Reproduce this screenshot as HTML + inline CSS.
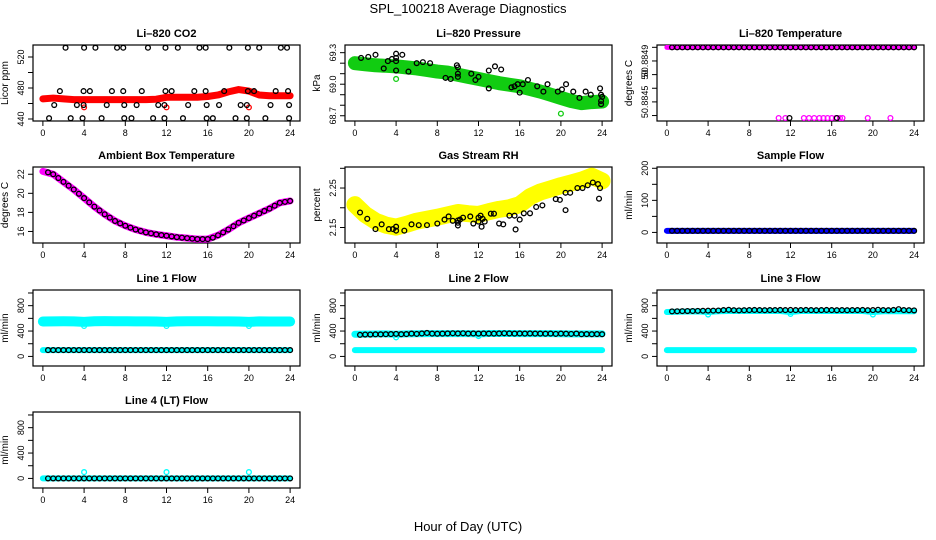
<!DOCTYPE html>
<html><head><meta charset="utf-8">
<style>
html,body{margin:0;padding:0;background:#fff;}
svg{display:block;font-family:"Liberation Sans",sans-serif;}
</style></head>
<body>
<svg id="chart" width="936" height="540" viewBox="0 0 936 540">
<text x="468" y="13" text-anchor="middle" font-size="13">SPL_100218  Average Diagnostics</text>
<text x="468" y="531" text-anchor="middle" font-size="13">Hour of Day (UTC)</text>
</svg>
<script>
// ---------- data ----------
const HOURS = [0,1,2,3,4,5,6,7,8,9,10,11,12,13,14,15,16,17,18,19,20,21,22,23,24];
const HALF = [0.5,1,1.5,2,2.5,3,3.5,4,4.5,5,5.5,6,6.5,7,7.5,8,8.5,9,9.5,10,10.5,11,11.5,12,12.5,13,13.5,14,14.5,15,15.5,16,16.5,17,17.5,18,18.5,19,19.5,20,20.5,21,21.5,22,22.5,23,23.5,24];
const XTICKS = [0,4,8,12,16,20,24];

// CO2
const co2Dense = [466,467,466,465,465,465,465,465,465,465,465,465.5,468,468,468,468,469,471,475,478,476,471,470,470,470];
const co2BlackH = [2.2,4.0,5.1,7.2,7.8,10.2,11.9,13.1,15.2,15.8,18.1,19.9,21.0,23.1,23.7,
 1.65,3.95,4.56,6.7,7.8,9.6,11.9,12.5,14.7,15.8,17.6,19.9,20.5,22.6,23.8,
 1.1,3.3,3.95,6.2,7.9,9.1,11.2,11.8,14.1,15.9,17.1,19.2,19.8,22.1,23.9,
 0.6,2.7,3.85,5.7,7.9,8.6,10.7,11.8,13.6,15.9,16.5,18.7,19.8,21.6,23.9];
const co2BlackV = [532,532,532,532,532,532,532,532,532,532,532,532,532,532,532,
 476,476,476,476,476,476,476,476,476,476,476,476,476,476,476,
 458,458,458,458,458,458,458,458,458,458,458,458,458,458,458,
 441,441,441,441,441,441,441,441,441,441,441,441,441,441,441];
const co2OutH = [4.0,12.0,20.0];
const co2OutV = [455,455,455];

// Pressure
const presDense = [69.20,69.19,69.18,69.175,69.17,69.16,69.15,69.135,69.12,69.11,69.09,69.07,69.05,69.03,69.01,68.995,68.98,68.955,68.93,68.9,68.87,68.84,68.82,68.83,68.835];
const presBlackH = [0.6,1.3,2,3.2,3.6,4,4,4,4.6,2.8,4,5.2,6,6.6,7.3,8.8,9.3,9.9,10,10,10,11.3,12,13,13.6,14.2,15.2,15.5,15.8,16,16.3,16.8,17.7,18.3,18.7,19.7,20.1,20.5,21.2,21.8,22.4,22.9,23.9,23.9,23.8,23.9,24,11.7,13];
const presBlackV = [69.25,69.26,69.28,69.22,69.24,69.22,69.25,69.29,69.28,69.15,69.13,69.12,69.2,69.21,69.2,69.06,69.05,69.18,69.16,69.1,69.07,69.1,69.07,69.13,69.17,69.14,68.97,68.98,69.0,68.92,69.0,69.04,68.98,68.93,69.0,68.93,68.95,69.0,68.93,68.87,68.93,68.9,68.84,68.9,68.96,68.81,68.88,69.04,68.96];
const presOutH = [4,20];
const presOutV = [69.05,68.72];

// Li-820 temperature
const tempTop = [50.8845,50.8845,50.8845,50.8845,50.8845,50.8845,50.8845,50.8845,50.8845,50.8845,50.8845,50.8845,50.8845,50.8845,50.8845,50.8845,50.8845,50.8845,50.8845,50.8845,50.8845,50.8845,50.8845,50.8845,50.8845];
const tempLowH = [10.85,11.5,13.3,13.8,14.3,14.8,15.2,15.6,16.0,16.4,16.8,17.05,19.5,21.7];
const tempLowV = [50.8844482,50.8844482,50.8844482,50.8844482,50.8844482,50.8844482,50.8844482,50.8844482,50.8844482,50.8844482,50.8844482,50.8844482,50.8844482,50.8844482];
const tempBlackLowH = [11.9,16.5];
const tempBlackLowV = [50.8844482,50.8844482];
const tempBlack = [50.8845,50.8845,50.8845,50.8845,50.8845,50.8845,50.8845,50.8845,50.8845,50.8845,50.8845,50.8845,50.8845,50.8845,50.8845,50.8845,50.8845,50.8845,50.8845,50.8845,50.8845,50.8845,50.8845,50.8845,50.8845,50.8845,50.8845,50.8845,50.8845,50.8845,50.8845,50.8845,50.8845,50.8845,50.8845,50.8845,50.8845,50.8845,50.8845,50.8845,50.8845,50.8845,50.8845,50.8845,50.8845,50.8845,50.8845,50.8845];

// Ambient
const ambDense = [22.3,22.0,21.2,20.4,19.5,18.6,17.8,17.1,16.6,16.2,15.9,15.7,15.55,15.4,15.3,15.2,15.2,15.6,16.2,16.9,17.4,17.9,18.4,19.0,19.2];
const ambBlack = [22.2,22.0,21.6,21.2,20.8,20.4,19.95,19.5,19.05,18.6,18.2,17.8,17.45,17.1,16.85,16.6,16.4,16.2,16.05,15.9,15.8,15.7,15.62,15.55,15.48,15.4,15.35,15.3,15.25,15.2,15.2,15.2,15.35,15.6,15.9,16.2,16.55,16.9,17.15,17.4,17.65,17.9,18.15,18.4,18.7,19.0,19.1,19.2];

// RH
const rhDense = [2.208,2.183,2.166,2.156,2.151,2.158,2.166,2.171,2.176,2.182,2.188,2.185,2.183,2.19,2.196,2.2,2.208,2.228,2.24,2.248,2.256,2.263,2.27,2.28,2.268];
const rhBlackH = [0.5,1.2,2,2.6,3.3,3.7,4,4,4.8,5.5,6.2,7,8,8.7,9.1,9.5,10,10,10,10.2,10.5,11.2,11.5,12,12,12.2,12.3,12.4,12.6,13.2,13.5,14,14.4,15,15.5,15.6,16,16.4,17,17.6,18.2,19.5,19.9,20.45,20.45,20.9,21.6,22.1,22.6,23.1,23.6,23.7,23.8];
const rhBlackV = [2.188,2.172,2.146,2.158,2.146,2.146,2.152,2.142,2.142,2.158,2.156,2.156,2.16,2.17,2.178,2.167,2.168,2.155,2.162,2.17,2.175,2.178,2.16,2.165,2.175,2.18,2.152,2.172,2.165,2.185,2.185,2.16,2.158,2.18,2.18,2.145,2.17,2.186,2.186,2.202,2.206,2.222,2.22,2.238,2.194,2.238,2.25,2.25,2.257,2.264,2.26,2.223,2.25];

// Sample flow
const sampDense = [5,5,5,5,5,5,5,5,5,5,5,5,5,5,5,5,5,5,5,5,5,5,5,5,5];
const sampBlack = [5,5,5,5,5,5,5,5,5,5,5,5,5,5,5,5,5,5,5,5,5,5,5,5,5,5,5,5,5,5,5,5,5,5,5,5,5,5,5,5,5,5,5,5,5,5,5,5];

// Line flows
const l1Cyan = [550,552,554,553,545,555,556,555,554,553,552,551,545,553,554,555,554,553,552,551,545,552,551,550,550];
const l1Low = [100,100,100,100,100,100,100,100,100,100,100,100,100,100,100,100,100,100,100,100,100,100,100,100,100];
const l1Black = [100,100,100,100,100,100,100,100,100,100,100,100,100,100,100,100,100,100,100,100,100,100,100,100,100,100,100,100,100,100,100,100,100,100,100,100,100,100,100,100,100,100,100,100,100,100,100,100];
const l1OutH = [4,12,20];
const l1OutV = [480,480,480];

const l2Cyan = [350,352,354,356,350,356,358,360,360,360,360,360,355,362,362,362,360,360,360,360,358,356,355,355,355];
const l2Low = [100,100,100,100,100,100,100,100,100,100,100,100,100,100,100,100,100,100,100,100,100,100,100,100,100];
const l2Black = [340,345,345,348,348,350,352,355,350,352,360,355,362,370,360,358,360,362,365,362,365,360,362,360,362,360,360,362,365,362,360,362,360,362,360,360,358,360,355,360,358,355,360,350,352,350,352,350];
const l2OutH = [4,12];
const l2OutV = [300,320];

const l3Cyan = [700,705,708,710,700,712,715,715,715,715,715,715,700,715,715,715,715,715,715,715,700,712,712,712,712];
const l3Low = [100,100,100,100,100,100,100,100,100,100,100,100,100,100,100,100,100,100,100,100,100,100,100,100,100];
const l3Black = [710,712,714,715,716,718,720,722,722,724,730,735,728,726,728,730,732,730,728,730,730,732,730,732,730,730,732,730,728,730,732,730,728,730,728,730,730,732,728,730,735,730,728,732,745,730,728,725];
const l3OutH = [4,12,20];
const l3OutV = [660,670,660];

const l4Cyan = [0,0,0,0,0,0,0,0,0,0,0,0,0,0,0,0,0,0,0,0,0,0,0,0,0];
const l4Black = [0,0,0,0,0,0,0,0,0,0,0,0,0,0,0,0,0,0,0,0,0,0,0,0,0,0,0,0,0,0,0,0,0,0,0,0,0,0,0,0,0,0,0,0,0,0,0,0];
const l4OutH = [4,12,20];
const l4OutV = [100,100,100];

// ---------- drawing ----------
const NS = 'http://www.w3.org/2000/svg';
const svg = document.getElementById('chart');
function mk(tag, attrs, parent){
  const e = document.createElementNS(NS, tag);
  for (const k in attrs) e.setAttribute(k, attrs[k]);
  (parent||svg).appendChild(e);
  return e;
}
const COLX = [33,345,657];
const ROWY = [45,167,290,412];
const BW = 267, BH = 76;

function panel(name, col, row, title, ylab, ydom, yticks, ylabels){
  const L = COLX[col], T = ROWY[row];
  const g = mk('g', {});
  
  
  const xs = h => L + (h + 0.96) / 25.92 * BW;
  const ys = v => T + BH - (v - ydom[0]) / (ydom[1] - ydom[0]) * BH;
  const box = mk('rect', {x:L, y:T, width:BW, height:BH, fill:'none', stroke:'#000', 'stroke-width':1.2}, g);
  
  
  const tt = mk('text', {x:L+BW/2, y:T-8, 'text-anchor':'middle', 'font-size':11, 'font-weight':'bold'}, g);
  tt.textContent = title;
  
  
  const yl = mk('text', {transform:`translate(${L-25},${T+BH/2}) rotate(-90)`, 'text-anchor':'middle', 'font-size':10}, g);
  yl.textContent = ylab;
  
  
  XTICKS.forEach(h => {
    const x = xs(h);
    mk('line', {x1:x, x2:x, y1:T+BH, y2:T+BH+5, stroke:'#000'}, g);
    const t = mk('text', {x:x, y:T+BH+15, 'text-anchor':'middle', 'font-size':9}, g);
    t.textContent = h;
    
    
  });
  yticks.forEach((v,i) => {
    const y = ys(v);
    mk('line', {x1:L-5, x2:L, y1:y, y2:y, stroke:'#000'}, g);
    if (ylabels[i]) {
      const t = mk('text', {transform:`translate(${L-9},${y}) rotate(-90)`, 'text-anchor':'middle', 'font-size':9}, g);
      t.textContent = ylabels[i];
      
      
    }
  });
  const clip = 'c' + col + row;
  const cp = mk('clipPath', {id:clip}, g);
  mk('rect', {x:L, y:T, width:BW, height:BH}, cp);
  const data = mk('g', {'clip-path':`url(#${clip})`}, g);
  return {
    band(hs, vs, color, w, nm){
      const p = mk('polyline', {points: hs.map((h,i)=>xs(h)+','+ys(vs[i])).join(' '), fill:'none', stroke:color, 'stroke-width':w, 'stroke-linejoin':'round', 'stroke-linecap':'round'}, data);
      
      
    },
    pts(hs, vs, color, nm){
      hs.forEach((h,i) => {
        const c = mk('circle', {cx:xs(h), cy:ys(vs[i]), r:2.4, fill:'none', stroke:color, 'stroke-width':1.3}, data);
        
        
      });
    }
  };
}

let p;
p = panel('co2-panel',0,0,'Li\u2013820 CO2','Licor ppm',[437.4,535.5],[440,460,480,500,520],['440','','480','','520']);
p.band(HOURS, co2Dense, '#f00', 7, 'co2-dense-series');
p.pts(co2OutH, co2OutV, '#f00', 'co2-outlier');
p.pts(co2BlackH, co2BlackV, '#000', 'co2-average-point');

p = panel('pressure-panel',1,0,'Li\u2013820 Pressure','kPa',[68.65,69.373],[68.7,68.8,68.9,69.0,69.1,69.2,69.3],['68.7','','','69.0','','','69.3']);
p.band(HOURS, presDense, '#1c1', 14, 'pressure-dense-series');
p.pts(presOutH, presOutV, '#1c1', 'pressure-outlier');
p.pts(presBlackH, presBlackV, '#000', 'pressure-average-point');

p = panel('temperature-panel',2,0,'Li\u2013820 Temperature','degrees C',[50.884446,50.8845017],[50.88445,50.88446,50.88447,50.88448,50.88449,50.8845],['','50.8845','','50','50.8849','']);
p.band(HOURS, tempTop, '#f0f', 5, 'temperature-dense-series');
p.pts(tempLowH, tempLowV, '#f0f', 'temperature-low-point');
p.pts(HALF, tempBlack, '#000', 'temperature-average-point');
p.pts(tempBlackLowH, tempBlackLowV, '#000', 'temperature-average-low-point');

p = panel('ambient-temp-panel',0,1,'Ambient Box Temperature','degrees C',[14.79,22.76],[16,18,20,22],['16','18','20','22']);
p.band(HOURS, ambDense, '#f0f', 7, 'ambient-dense-series');
p.pts(HALF, ambBlack, '#000', 'ambient-average-point');

p = panel('rh-panel',1,1,'Gas Stream RH','percent',[2.1107,2.3033],[2.15,2.2,2.25,2.3],['2.15','','2.25','']);
p.band(HOURS, rhDense, '#ff0', 17, 'rh-dense-series');
p.pts(rhBlackH, rhBlackV, '#000', 'rh-average-point');

p = panel('sample-flow-panel',2,1,'Sample Flow','ml/min',[-33,204],[0,50,100,150,200],['0','','100','','200']);
p.band(HOURS, sampDense, '#00f', 6, 'sample-flow-dense-series');
p.pts(HALF, sampBlack, '#000', 'sample-flow-average-point');

const FT = [0,200,400,600,800,1000], FL = ['0','','400','','800',''];
p = panel('line1-flow-panel',0,2,'Line 1 Flow','ml/min',[-151,1047],FT,FL);
p.band(HOURS, l1Cyan, '#0ff', 10, 'line1-cyan-series');
p.band(HOURS, l1Low, '#0ff', 6, 'line1-cyan-low-series');
p.pts(l1OutH, l1OutV, '#0ff', 'line1-outlier');
p.pts(HALF, l1Black, '#000', 'line1-average-point');

p = panel('line2-flow-panel',1,2,'Line 2 Flow','ml/min',[-151,1047],FT,FL);
p.band(HOURS, l2Cyan, '#0ff', 7, 'line2-cyan-series');
p.band(HOURS, l2Low, '#0ff', 6, 'line2-cyan-low-series');
p.pts(l2OutH, l2OutV, '#0ff', 'line2-outlier');
p.pts(HALF, l2Black, '#000', 'line2-average-point');

p = panel('line3-flow-panel',2,2,'Line 3 Flow','ml/min',[-151,1047],FT,FL);
p.band(HOURS, l3Cyan, '#0ff', 6, 'line3-cyan-series');
p.band(HOURS, l3Low, '#0ff', 6, 'line3-cyan-low-series');
p.pts(l3OutH, l3OutV, '#0ff', 'line3-outlier');
p.pts(HALF, l3Black, '#000', 'line3-average-point');

p = panel('line4-flow-panel',0,3,'Line 4 (LT) Flow','ml/min',[-151,1047],FT,FL);
p.band(HOURS, l4Cyan, '#0ff', 6, 'line4-cyan-series');
p.pts(l4OutH, l4OutV, '#0ff', 'line4-outlier');
p.pts(HALF, l4Black, '#000', 'line4-average-point');
</script>
</body></html>
